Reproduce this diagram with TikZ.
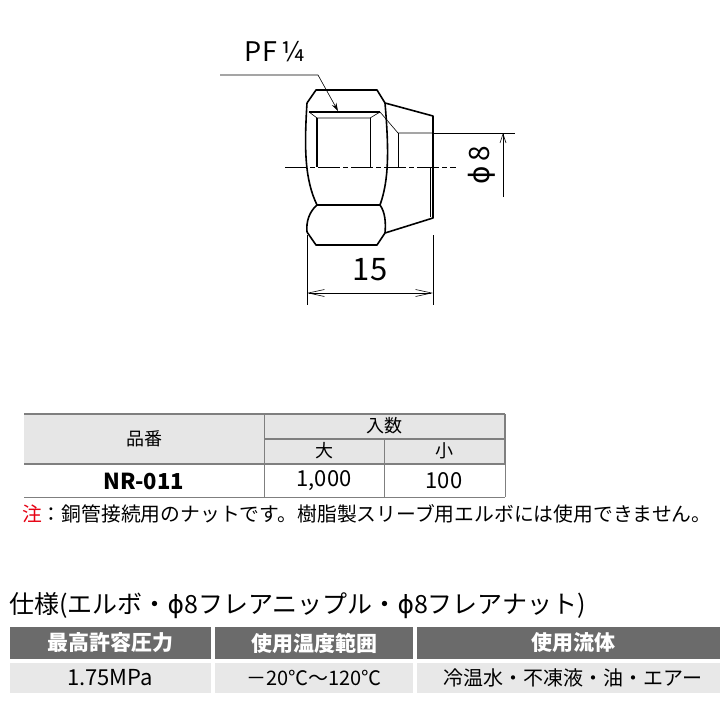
\documentclass[tikz,border=0pt]{standalone}
\usepackage{fontspec}
\setmainfont{Noto Sans CJK JP}
\newfontfamily\dvs{DejaVu Sans}
\usetikzlibrary{arrows.meta}
\definecolor{hdr}{HTML}{E6E6E6}
\definecolor{bord}{HTML}{7F7F7F}
\definecolor{dark}{HTML}{6B6B6B}
\definecolor{lite}{HTML}{E8E8E8}
\definecolor{red}{HTML}{E60012}
\newcommand{\phisym}{{\dvs ϕ}}
\begin{document}
\begin{tikzpicture}[x=1pt,y=-1pt,
  part/.style={line width=1.6pt,line join=round},
  thin/.style={line width=0.6pt},
  txt/.style={inner sep=0pt,font=\fontsize{20}{20}\selectfont},
  htxt/.style={inner sep=0pt,font=\fontsize{21}{21}\selectfont\bfseries,text=white}]
\useasboundingbox (0,0) rectangle (720,720);
% nut outline
\draw[part] (307,103) -- (316,90) -- (377,90) -- (385,103) -- (433,116) -- (433,218) -- (385,233) -- (377,245) -- (316,245) -- (307,232);
\draw[part] (307,103) .. controls (304,150) and (305,180) .. (317,205);
\draw[part] (317,205) .. controls (309,212) and (306,222) .. (307,232);
\draw[part] (385,103) .. controls (389,150) and (389,180) .. (380,205);
\draw[part] (380,205) .. controls (385,212) and (386,222) .. (385,233);
\draw[part] (317,205) -- (380,205);
% thread
\draw[part] (309,112) -- (380,112);
\draw[thin] (309,112) -- (317,118) -- (370,118) -- (380,112);
\draw[part] (317,118) -- (317,167);
\draw[thin] (370,118) -- (370,167);
\draw[thin] (380,112) -- (398,133) -- (433,133);
\draw[thin] (398,133) -- (398,167);
\draw[thin] (430,167) -- (430,217);
% centre line
\draw[thin,dash pattern=on 22pt off 3pt on 5pt off 3pt] (285,167) -- (456,167);
% phi 8
\coordinate (p1) at (433,133); \coordinate (p2) at (515,133);
\draw[thin] (p1) -- (p2);
\coordinate (a1) at (503,197); \coordinate (a2) at (503,133);
\draw[thin,-{Straight Barb[length=9pt,width=6pt]}] (a1) -- (a2);
\node[rotate=90,inner sep=0pt,font=\fontsize{28}{28}\selectfont] (phi) at (482,165) {\phisym\,8};
% 15
\coordinate (e1) at (307,235); \coordinate (e2) at (307,305);
\coordinate (e3) at (433,235); \coordinate (e4) at (433,305);
\draw[thin] (e1) -- (e2); \draw[thin] (e3) -- (e4);
\coordinate (d1) at (307,293); \coordinate (d2) at (433,293);
\draw[thin,{Straight Barb[length=16pt,width=7pt]}-{Straight Barb[length=16pt,width=7pt]}] (d1) -- (d2);
\node[inner sep=0pt,font=\fontsize{31}{31}\selectfont] (fifteen) at (370,270) {15};
% PF 1/4
\node[inner sep=0pt,font=\fontsize{27}{27}\selectfont] (pf) at (275,52) {PF\,¼};
\coordinate (l1) at (220,75); \coordinate (l2) at (318,75); \coordinate (l3) at (338,111);
\draw[thin,-{Stealth[length=8pt,width=5pt]}] (l1) -- (l2) -- (l3);
% table 1
\fill[hdr] (24,414) rectangle (505,464);
\draw[bord,line width=1.6pt] (24,414) -- (505,414);
\draw[bord,line width=1.6pt] (264,439) -- (505,439);
\draw[bord,line width=1.6pt] (24,464) -- (505,464);
\draw[bord,line width=1.6pt] (505,414) -- (505,464);
\draw[bord,line width=0.6pt] (264,414) -- (264,497) (384,439) -- (384,497) (505,464) -- (505,497);
\draw[bord,line width=0.6pt] (24,497) -- (505,497);
\node[txt,font=\fontsize{18}{18}\selectfont] (h1) at (144,439) {品番};
\node[txt,font=\fontsize{18}{18}\selectfont] (h2) at (384,426) {入数};
\node[txt,font=\fontsize{18}{18}\selectfont] (h3) at (324,451) {大};
\node[txt,font=\fontsize{18}{18}\selectfont] (h4) at (444,451) {小};
\node[txt,font=\fontsize{22}{22}\selectfont\bfseries] (r1) at (144,481) {NR-011};
\node[txt,font=\fontsize{22}{22}\selectfont] (r2) at (324,481) {1,000};
\node[txt,font=\fontsize{22}{22}\selectfont] (r3) at (444,481) {100};
\node[txt,anchor=west,font=\fontsize{19.8}{20}\selectfont] (note) at (22,514) {\textcolor{red}{注}：銅管接続用のナットです。樹脂製スリーブ用エルボには使用できません。};
% spec
\node[inner sep=0pt,anchor=west,font=\fontsize{25}{25}\selectfont] (title) at (9,606) {仕様(エルボ・\phisym 8フレアニップル・\phisym 8フレアナット)};
\fill[dark] (10,627) rectangle (211,659);
\fill[dark] (215,627) rectangle (413,659);
\fill[dark] (417,627) rectangle (720,659);
\fill[lite] (10,663) rectangle (211,693);
\fill[lite] (215,663) rectangle (413,693);
\fill[lite] (417,663) rectangle (720,693);
\node[htxt] (s1) at (110,643) {最高許容圧力};
\node[htxt] (s2) at (314,643) {使用温度範囲};
\node[htxt] (s3) at (573,643) {使用流体};
\node[txt,font=\fontsize{22}{22}\selectfont] (v1) at (110,678) {1.75MPa};
\node[txt] (v2) at (314,678) {－20℃～120℃};
\node[txt] (v3) at (573,678) {冷温水・不凍液・油・エアー};
\end{tikzpicture}
\end{document}
